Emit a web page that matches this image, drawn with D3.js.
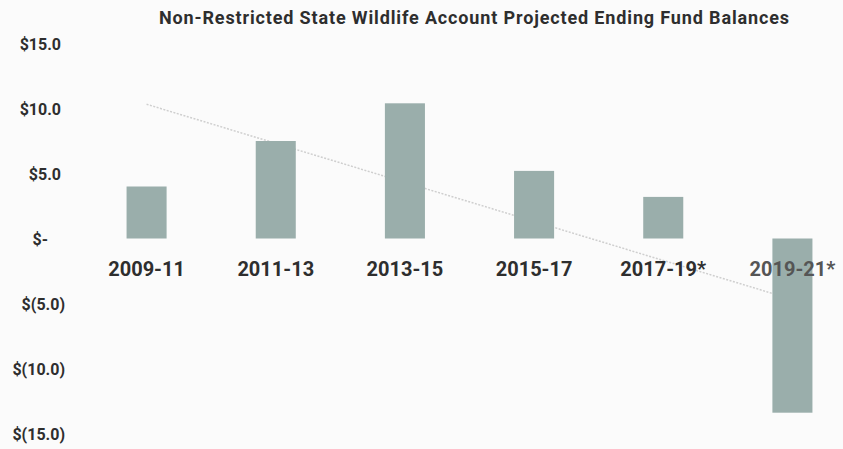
<!DOCTYPE html>
<html>
<head>
<meta charset="utf-8">
<script src="https://cdn.jsdelivr.net/npm/d3@7"></script>
<style>
  html, body { margin: 0; padding: 0; background: #fbfbfb; }
  svg { display: block; }
  text { font-family: Roboto, "Open Sans", sans-serif; font-weight: 700; }
</style>
</head>
<body>
<svg id="chart" width="843" height="449"></svg>
<script>
// Biennium periods (* = projected)
const periods = ["2009-11", "2011-13", "2013-15", "2015-17", "2017-19*", "2019-21*"];
// Ending fund balance, $ millions
const balances = [4.0, 7.5, 10.4, 5.2, 3.2, -13.4];
// Value axis ticks
const yTicks = [15, 10, 5, 0, -5, -10, -15];

const W = 843, H = 449;
const svg = d3.select("#chart");

svg.append("rect").attr("width", W).attr("height", H).attr("fill", "#fbfbfb");

const x = d3.scaleBand()
  .domain(periods)
  .range([82, 857])
  .paddingInner(0.69)
  .paddingOuter(0.345);

const y = d3.scaleLinear().domain([-15, 15]).range([433.5, 43.5]);

// Title
svg.append("text")
  .attr("x", 474).attr("y", 24)
  .attr("text-anchor", "middle")
  .attr("font-size", 18)
  .attr("textLength", 630)
  .attr("lengthAdjust", "spacing")
  .attr("fill", "#2e2e2e")
  .text("Non-Restricted State Wildlife Account Projected Ending Fund Balances");

// Accounting-style tick labels
const fmt = v => v === 0 ? "$-" : v > 0 ? "$" + d3.format(".1f")(v) : "$(" + d3.format(".1f")(-v) + ")";
const yAxis = d3.axisLeft(y).tickValues(yTicks).tickFormat(fmt).tickSize(0);
const gy = svg.append("g").call(yAxis);
gy.select(".domain").remove();
gy.selectAll(".tick text")
  .attr("font-size", 16)
  .attr("font-family", "Roboto, sans-serif")
  .attr("font-weight", 700)
  .attr("fill", "#2e2e2e")
  .attr("text-anchor", "end")
  .attr("x", d => d === 0 ? 48 : d > 0 ? 61 : 65)
  .attr("dy", "0.35em");

// Linear trend of the balances (least squares), drawn behind the bars
const idx = balances.map((_, i) => i);
const mx = d3.mean(idx), my = d3.mean(balances);
const slope = d3.sum(idx, i => (i - mx) * (balances[i] - my)) / d3.sum(idx, i => (i - mx) ** 2);
const trend = idx.map(i => my + slope * (i - mx));
const cx = p => x(p) + x.bandwidth() / 2;

svg.append("path")
  .datum(periods)
  .attr("d", d3.line().x(p => cx(p)).y((p, i) => y(trend[i])))
  .attr("fill", "none")
  .attr("stroke", "#cfcfcf")
  .attr("stroke-width", 1.5)
  .attr("stroke-dasharray", "2 1.5");

// Bars
svg.append("g").selectAll("rect")
  .data(periods)
  .join("rect")
  .attr("x", p => x(p))
  .attr("width", x.bandwidth())
  .attr("y", (p, i) => y(Math.max(0, balances[i])))
  .attr("height", (p, i) => Math.abs(y(balances[i]) - y(0)))
  .attr("fill", "#9aaeab");

// Category labels along the zero line
svg.append("g").selectAll("text")
  .data(periods)
  .join("text")
  .attr("x", p => cx(p))
  .attr("y", 276)
  .attr("text-anchor", "middle")
  .attr("font-size", 20)
  .attr("fill", (p, i) => balances[i] < 0 ? "#555" : "#2e2e2e")
  .text(p => p);
</script>
</body>
</html>
